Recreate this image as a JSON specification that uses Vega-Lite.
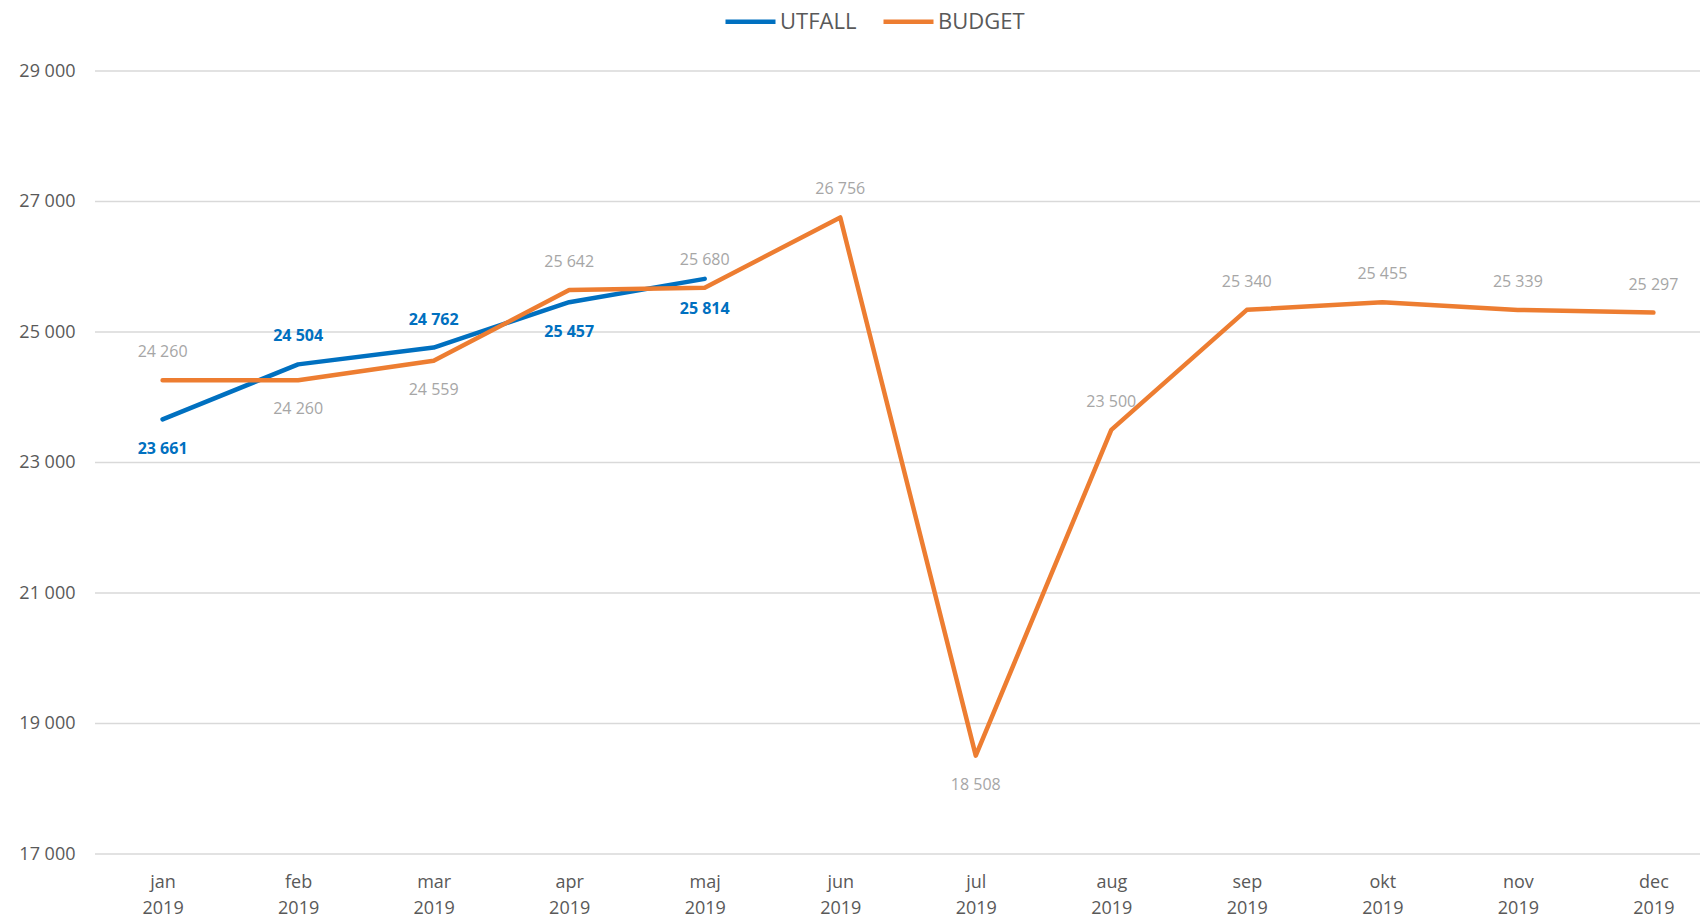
{
  "$schema": "https://vega.github.io/schema/vega-lite/v6.json",
  "autosize": {"type": "none"},
  "width": 1605,
  "height": 783,
  "padding": {"left": 95, "top": 71, "right": 0, "bottom": 63},
  "background": "white",
  "config": {
    "view": {"stroke": null},
    "font": "Open Sans",
    "locale": {"number": {"decimal": ",", "thousands": " ", "grouping": [3], "currency": ["", ""]}}
  },
  "datasets": {
    "grid": [
      {"tick": 17000}, {"tick": 19000}, {"tick": 21000}, {"tick": 23000}, {"tick": 25000}, {"tick": 27000}, {"tick": 29000}
    ],
    "main": [
      {"month": "jan", "series": "UTFALL", "value": 23661},
      {"month": "feb", "series": "UTFALL", "value": 24504},
      {"month": "mar", "series": "UTFALL", "value": 24762},
      {"month": "apr", "series": "UTFALL", "value": 25457},
      {"month": "maj", "series": "UTFALL", "value": 25814},
      {"month": "jan", "series": "BUDGET", "value": 24260},
      {"month": "feb", "series": "BUDGET", "value": 24260},
      {"month": "mar", "series": "BUDGET", "value": 24559},
      {"month": "apr", "series": "BUDGET", "value": 25642},
      {"month": "maj", "series": "BUDGET", "value": 25680},
      {"month": "jun", "series": "BUDGET", "value": 26756},
      {"month": "jul", "series": "BUDGET", "value": 18508},
      {"month": "aug", "series": "BUDGET", "value": 23500},
      {"month": "sep", "series": "BUDGET", "value": 25340},
      {"month": "okt", "series": "BUDGET", "value": 25455},
      {"month": "nov", "series": "BUDGET", "value": 25339},
      {"month": "dec", "series": "BUDGET", "value": 25297}
    ]
  },
  "layer": [
    {
      "data": {"name": "grid"},
      "mark": {"type": "rule", "color": "#D9D9D9", "strokeWidth": 1.3},
      "encoding": {
        "y": {"field": "tick", "type": "quantitative", "scale": {"domain": [17000, 29000], "nice": false, "zero": false},
          "axis": {"title": null, "values": [17000,19000,21000,23000,25000,27000,29000], "format": ",d", "domain": false, "ticks": false, "grid": false, "labelFontSize": 18, "labelColor": "#595959", "labelPadding": 20, "labelFont": "Open Sans"}}
      }
    },
    {
      "data": {"name": "main"},
      "encoding": {
        "x": {
          "field": "month", "type": "ordinal",
          "scale": {"type": "point", "padding": 0, "domain": ["jan","feb","mar","apr","maj","jun","jul","aug","sep","okt","nov","dec"], "range": [67.6, 1558.4]},
          "axis": {"title": null, "domain": false, "ticks": false, "grid": false, "labelAngle": 0, "labelExpr": "[datum.label, '2019']", "labelFontSize": 18, "labelColor": "#595959", "labelPadding": 19, "labelLineHeight": 26, "labelFont": "Open Sans"}
        },
        "y": {"field": "value", "type": "quantitative"}
      },
      "layer": [
        {
          "mark": {"type": "line", "strokeWidth": 4.5, "strokeCap": "round", "strokeJoin": "round"},
          "encoding": {
            "color": {
              "field": "series", "type": "nominal",
              "scale": {"domain": ["UTFALL", "BUDGET"], "range": ["#0070C0", "#ED7D31"]},
              "legend": {"title": null, "orient": "none", "direction": "horizontal", "legendX": 628, "legendY": -77, "symbolType": "stroke", "symbolSize": 2500, "symbolStrokeWidth": 4.5, "labelFontSize": 22, "labelColor": "#595959", "labelFont": "Open Sans", "labelOffset": 2, "columnPadding": 17, "padding": 0}
            }
          }
        },
        {
          "transform": [{"filter": "datum.series == 'BUDGET' && indexof(['feb','mar','jul'], datum.month) < 0"}],
          "mark": {"type": "text", "dy": -28, "fontSize": 16, "color": "#A6A6A6", "baseline": "middle"},
          "encoding": {"text": {"field": "value", "type": "quantitative", "format": ",d"}}
        },
        {
          "transform": [{"filter": "datum.series == 'BUDGET' && indexof(['feb','mar','jul'], datum.month) >= 0"}],
          "mark": {"type": "text", "dy": 29, "fontSize": 16, "color": "#A6A6A6", "baseline": "middle"},
          "encoding": {"text": {"field": "value", "type": "quantitative", "format": ",d"}}
        },
        {
          "transform": [{"filter": "datum.series == 'UTFALL' && indexof(['feb','mar'], datum.month) >= 0"}],
          "mark": {"type": "text", "dy": -28, "fontSize": 16, "fontWeight": "bold", "color": "#0070C0", "baseline": "middle"},
          "encoding": {"text": {"field": "value", "type": "quantitative", "format": ",d"}}
        },
        {
          "transform": [{"filter": "datum.series == 'UTFALL' && indexof(['feb','mar'], datum.month) < 0"}],
          "mark": {"type": "text", "dy": 30, "fontSize": 16, "fontWeight": "bold", "color": "#0070C0", "baseline": "middle"},
          "encoding": {"text": {"field": "value", "type": "quantitative", "format": ",d"}}
        }
      ]
    }
  ]
}
